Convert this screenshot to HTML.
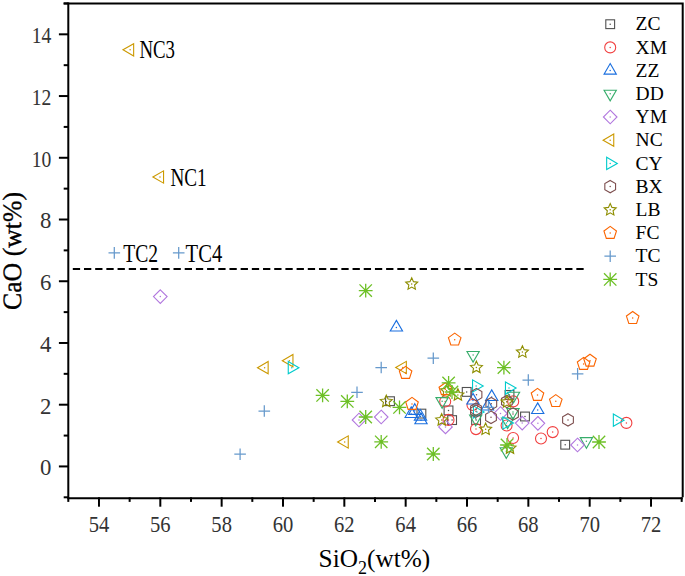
<!DOCTYPE html><html><head><meta charset="utf-8"><style>
html,body{margin:0;padding:0;background:#fff;width:685px;height:576px;overflow:hidden}
svg{display:block;position:absolute;left:0;top:0}
text{font-family:"Liberation Serif",serif}
</style></head><body>
<svg width="685" height="576" viewBox="0 0 685 576">
<rect width="685" height="576" fill="#fff"/>
<line x1="72.8" y1="269.05" x2="584" y2="269.05" stroke="#000" stroke-width="2" stroke-dasharray="7.3 3.89"/>
<rect x="385.6" y="396.8" width="8.8" height="8.8" fill="none" stroke="#515151" stroke-width="1.1"/><circle cx="390" cy="401.2" r="0.75" fill="#515151"/>
<rect x="417" y="409.2" width="8.8" height="8.8" fill="none" stroke="#515151" stroke-width="1.1"/><circle cx="421.4" cy="413.6" r="0.75" fill="#515151"/>
<rect x="444.1" y="406" width="8.8" height="8.8" fill="none" stroke="#515151" stroke-width="1.1"/><circle cx="448.5" cy="410.4" r="0.75" fill="#515151"/>
<rect x="447.7" y="415.7" width="8.8" height="8.8" fill="none" stroke="#515151" stroke-width="1.1"/><circle cx="452.1" cy="420.1" r="0.75" fill="#515151"/>
<rect x="462.3" y="387.5" width="8.8" height="8.8" fill="none" stroke="#515151" stroke-width="1.1"/><circle cx="466.7" cy="391.9" r="0.75" fill="#515151"/>
<rect x="471.7" y="415.7" width="8.8" height="8.8" fill="none" stroke="#515151" stroke-width="1.1"/><circle cx="476.1" cy="420.1" r="0.75" fill="#515151"/>
<rect x="505.1" y="390.5" width="8.8" height="8.8" fill="none" stroke="#515151" stroke-width="1.1"/><circle cx="509.5" cy="394.9" r="0.75" fill="#515151"/>
<rect x="520.6" y="412.1" width="8.8" height="8.8" fill="none" stroke="#515151" stroke-width="1.1"/><circle cx="525" cy="416.5" r="0.75" fill="#515151"/>
<rect x="560.8" y="440.3" width="8.8" height="8.8" fill="none" stroke="#515151" stroke-width="1.1"/><circle cx="565.2" cy="444.7" r="0.75" fill="#515151"/>
<circle cx="445.2" cy="401.5" r="5.5" fill="none" stroke="#F14040" stroke-width="1.1"/><circle cx="445.2" cy="401.5" r="0.75" fill="#F14040"/>
<circle cx="448.5" cy="419.9" r="5.5" fill="none" stroke="#F14040" stroke-width="1.1"/><circle cx="448.5" cy="419.9" r="0.75" fill="#F14040"/>
<circle cx="472.5" cy="405" r="5.5" fill="none" stroke="#F14040" stroke-width="1.1"/><circle cx="472.5" cy="405" r="0.75" fill="#F14040"/>
<circle cx="476" cy="429.1" r="5.5" fill="none" stroke="#F14040" stroke-width="1.1"/><circle cx="476" cy="429.1" r="0.75" fill="#F14040"/>
<circle cx="513.2" cy="401.4" r="5.5" fill="none" stroke="#F14040" stroke-width="1.1"/><circle cx="513.2" cy="401.4" r="0.75" fill="#F14040"/>
<circle cx="506.6" cy="425.5" r="5.5" fill="none" stroke="#F14040" stroke-width="1.1"/><circle cx="506.6" cy="425.5" r="0.75" fill="#F14040"/>
<circle cx="513.1" cy="438" r="5.5" fill="none" stroke="#F14040" stroke-width="1.1"/><circle cx="513.1" cy="438" r="0.75" fill="#F14040"/>
<circle cx="541" cy="438.5" r="5.5" fill="none" stroke="#F14040" stroke-width="1.1"/><circle cx="541" cy="438.5" r="0.75" fill="#F14040"/>
<circle cx="552.7" cy="432.1" r="5.5" fill="none" stroke="#F14040" stroke-width="1.1"/><circle cx="552.7" cy="432.1" r="0.75" fill="#F14040"/>
<circle cx="626.4" cy="422.9" r="5.5" fill="none" stroke="#F14040" stroke-width="1.1"/><circle cx="626.4" cy="422.9" r="0.75" fill="#F14040"/>
<path d="M396.4 320.4 L402.55 331.05 L390.25 331.05 Z" fill="none" stroke="#1A6FDF" stroke-width="1.1"/><circle cx="396.4" cy="327.5" r="0.75" fill="#1A6FDF"/>
<path d="M411.2 406.9 L417.35 417.55 L405.05 417.55 Z" fill="none" stroke="#1A6FDF" stroke-width="1.1"/><circle cx="411.2" cy="414" r="0.75" fill="#1A6FDF"/>
<path d="M414.8 403.7 L420.95 414.35 L408.65 414.35 Z" fill="none" stroke="#1A6FDF" stroke-width="1.1"/><circle cx="414.8" cy="410.8" r="0.75" fill="#1A6FDF"/>
<path d="M421 413.1 L427.15 423.75 L414.85 423.75 Z" fill="none" stroke="#1A6FDF" stroke-width="1.1"/><circle cx="421" cy="420.2" r="0.75" fill="#1A6FDF"/>
<path d="M420.5 409.5 L426.65 420.15 L414.35 420.15 Z" fill="none" stroke="#1A6FDF" stroke-width="1.1"/><circle cx="420.5" cy="416.6" r="0.75" fill="#1A6FDF"/>
<path d="M473 393.4 L479.15 404.05 L466.85 404.05 Z" fill="none" stroke="#1A6FDF" stroke-width="1.1"/><circle cx="473" cy="400.5" r="0.75" fill="#1A6FDF"/>
<path d="M491.7 389.9 L497.85 400.55 L485.55 400.55 Z" fill="none" stroke="#1A6FDF" stroke-width="1.1"/><circle cx="491.7" cy="397" r="0.75" fill="#1A6FDF"/>
<path d="M487.5 399.4 L493.65 410.05 L481.35 410.05 Z" fill="none" stroke="#1A6FDF" stroke-width="1.1"/><circle cx="487.5" cy="406.5" r="0.75" fill="#1A6FDF"/>
<path d="M537.7 402.9 L543.85 413.55 L531.55 413.55 Z" fill="none" stroke="#1A6FDF" stroke-width="1.1"/><circle cx="537.7" cy="410" r="0.75" fill="#1A6FDF"/>
<path d="M473.1 362.1 L466.95 351.45 L479.25 351.45 Z" fill="none" stroke="#37AD6B" stroke-width="1.1"/><circle cx="473.1" cy="355" r="0.75" fill="#37AD6B"/>
<path d="M442.1 408.3 L435.95 397.65 L448.25 397.65 Z" fill="none" stroke="#37AD6B" stroke-width="1.1"/><circle cx="442.1" cy="401.2" r="0.75" fill="#37AD6B"/>
<path d="M513.5 402.9 L507.35 392.25 L519.65 392.25 Z" fill="none" stroke="#37AD6B" stroke-width="1.1"/><circle cx="513.5" cy="395.8" r="0.75" fill="#37AD6B"/>
<path d="M475.7 425.8 L469.55 415.15 L481.85 415.15 Z" fill="none" stroke="#37AD6B" stroke-width="1.1"/><circle cx="475.7" cy="418.7" r="0.75" fill="#37AD6B"/>
<path d="M507.6 428.6 L501.45 417.95 L513.75 417.95 Z" fill="none" stroke="#37AD6B" stroke-width="1.1"/><circle cx="507.6" cy="421.5" r="0.75" fill="#37AD6B"/>
<path d="M513 419.1 L506.85 408.45 L519.15 408.45 Z" fill="none" stroke="#37AD6B" stroke-width="1.1"/><circle cx="513" cy="412" r="0.75" fill="#37AD6B"/>
<path d="M506.3 458.4 L500.15 447.75 L512.45 447.75 Z" fill="none" stroke="#37AD6B" stroke-width="1.1"/><circle cx="506.3" cy="451.3" r="0.75" fill="#37AD6B"/>
<path d="M586.4 448.3 L580.25 437.65 L592.55 437.65 Z" fill="none" stroke="#37AD6B" stroke-width="1.1"/><circle cx="586.4" cy="441.2" r="0.75" fill="#37AD6B"/>
<path d="M160.3 289.8 L167.1 296.6 L160.3 303.4 L153.5 296.6 Z" fill="none" stroke="#B177DE" stroke-width="1.1"/><circle cx="160.3" cy="296.6" r="0.75" fill="#B177DE"/>
<path d="M359 413.2 L365.8 420 L359 426.8 L352.2 420 Z" fill="none" stroke="#B177DE" stroke-width="1.1"/><circle cx="359" cy="420" r="0.75" fill="#B177DE"/>
<path d="M381.2 410.2 L388 417 L381.2 423.8 L374.4 417 Z" fill="none" stroke="#B177DE" stroke-width="1.1"/><circle cx="381.2" cy="417" r="0.75" fill="#B177DE"/>
<path d="M445.5 420.1 L452.3 426.9 L445.5 433.7 L438.7 426.9 Z" fill="none" stroke="#B177DE" stroke-width="1.1"/><circle cx="445.5" cy="426.9" r="0.75" fill="#B177DE"/>
<path d="M500.5 406.7 L507.3 413.5 L500.5 420.3 L493.7 413.5 Z" fill="none" stroke="#B177DE" stroke-width="1.1"/><circle cx="500.5" cy="413.5" r="0.75" fill="#B177DE"/>
<path d="M522.2 416.3 L529 423.1 L522.2 429.9 L515.4 423.1 Z" fill="none" stroke="#B177DE" stroke-width="1.1"/><circle cx="522.2" cy="423.1" r="0.75" fill="#B177DE"/>
<path d="M537.9 416.5 L544.7 423.3 L537.9 430.1 L531.1 423.3 Z" fill="none" stroke="#B177DE" stroke-width="1.1"/><circle cx="537.9" cy="423.3" r="0.75" fill="#B177DE"/>
<path d="M577.5 438.2 L584.3 445 L577.5 451.8 L570.7 445 Z" fill="none" stroke="#B177DE" stroke-width="1.1"/><circle cx="577.5" cy="445" r="0.75" fill="#B177DE"/>
<path d="M123 49.8 L133.65 43.65 L133.65 55.95 Z" fill="none" stroke="#CC9900" stroke-width="1.1"/><circle cx="130.1" cy="49.8" r="0.75" fill="#CC9900"/>
<path d="M152.9 177 L163.55 170.85 L163.55 183.15 Z" fill="none" stroke="#CC9900" stroke-width="1.1"/><circle cx="160" cy="177" r="0.75" fill="#CC9900"/>
<path d="M257.5 367.7 L268.15 361.55 L268.15 373.85 Z" fill="none" stroke="#CC9900" stroke-width="1.1"/><circle cx="264.6" cy="367.7" r="0.75" fill="#CC9900"/>
<path d="M282.3 360.7 L292.95 354.55 L292.95 366.85 Z" fill="none" stroke="#CC9900" stroke-width="1.1"/><circle cx="289.4" cy="360.7" r="0.75" fill="#CC9900"/>
<path d="M395.7 367.5 L406.35 361.35 L406.35 373.65 Z" fill="none" stroke="#CC9900" stroke-width="1.1"/><circle cx="402.8" cy="367.5" r="0.75" fill="#CC9900"/>
<path d="M337.6 442 L348.25 435.85 L348.25 448.15 Z" fill="none" stroke="#CC9900" stroke-width="1.1"/><circle cx="344.7" cy="442" r="0.75" fill="#CC9900"/>
<path d="M298.9 367.7 L288.25 373.85 L288.25 361.55 Z" fill="none" stroke="#00CBCC" stroke-width="1.1"/><circle cx="291.8" cy="367.7" r="0.75" fill="#00CBCC"/>
<path d="M483.2 386 L472.55 392.15 L472.55 379.85 Z" fill="none" stroke="#00CBCC" stroke-width="1.1"/><circle cx="476.1" cy="386" r="0.75" fill="#00CBCC"/>
<path d="M516.1 388.1 L505.45 394.25 L505.45 381.95 Z" fill="none" stroke="#00CBCC" stroke-width="1.1"/><circle cx="509" cy="388.1" r="0.75" fill="#00CBCC"/>
<path d="M513.5 423 L502.85 429.15 L502.85 416.85 Z" fill="none" stroke="#00CBCC" stroke-width="1.1"/><circle cx="506.4" cy="423" r="0.75" fill="#00CBCC"/>
<path d="M624 420.2 L613.35 426.35 L613.35 414.05 Z" fill="none" stroke="#00CBCC" stroke-width="1.1"/><circle cx="616.9" cy="420.2" r="0.75" fill="#00CBCC"/>
<path d="M484.1 412 L473.45 418.15 L473.45 405.85 Z" fill="none" stroke="#00CBCC" stroke-width="1.1"/><circle cx="477" cy="412" r="0.75" fill="#00CBCC"/>
<path d="M476.5 388.5 L481.87 391.6 L481.87 397.8 L476.5 400.9 L471.13 397.8 L471.13 391.6 Z" fill="none" stroke="#7D4E4E" stroke-width="1.1"/><circle cx="476.5" cy="394.7" r="0.75" fill="#7D4E4E"/>
<path d="M476 403 L481.37 406.1 L481.37 412.3 L476 415.4 L470.63 412.3 L470.63 406.1 Z" fill="none" stroke="#7D4E4E" stroke-width="1.1"/><circle cx="476" cy="409.2" r="0.75" fill="#7D4E4E"/>
<path d="M476 405 L481.37 408.1 L481.37 414.3 L476 417.4 L470.63 414.3 L470.63 408.1 Z" fill="none" stroke="#7D4E4E" stroke-width="1.1"/><circle cx="476" cy="411.2" r="0.75" fill="#7D4E4E"/>
<path d="M491.3 397.5 L496.67 400.6 L496.67 406.8 L491.3 409.9 L485.93 406.8 L485.93 400.6 Z" fill="none" stroke="#7D4E4E" stroke-width="1.1"/><circle cx="491.3" cy="403.7" r="0.75" fill="#7D4E4E"/>
<path d="M491 411.1 L496.37 414.2 L496.37 420.4 L491 423.5 L485.63 420.4 L485.63 414.2 Z" fill="none" stroke="#7D4E4E" stroke-width="1.1"/><circle cx="491" cy="417.3" r="0.75" fill="#7D4E4E"/>
<path d="M506.9 395.3 L512.27 398.4 L512.27 404.6 L506.9 407.7 L501.53 404.6 L501.53 398.4 Z" fill="none" stroke="#7D4E4E" stroke-width="1.1"/><circle cx="506.9" cy="401.5" r="0.75" fill="#7D4E4E"/>
<path d="M513 407.8 L518.37 410.9 L518.37 417.1 L513 420.2 L507.63 417.1 L507.63 410.9 Z" fill="none" stroke="#7D4E4E" stroke-width="1.1"/><circle cx="513" cy="414" r="0.75" fill="#7D4E4E"/>
<path d="M568 413.7 L573.37 416.8 L573.37 423 L568 426.1 L562.63 423 L562.63 416.8 Z" fill="none" stroke="#7D4E4E" stroke-width="1.1"/><circle cx="568" cy="419.9" r="0.75" fill="#7D4E4E"/>
<path d="M411.7 277.8 L413.46 281.67 L417.69 282.15 L414.55 285.03 L415.4 289.2 L411.7 287.1 L408 289.2 L408.85 285.03 L405.71 282.15 L409.94 281.67 Z" fill="none" stroke="#8E8E00" stroke-width="1.1" stroke-linejoin="miter"/><circle cx="411.7" cy="284.1" r="0.75" fill="#8E8E00"/>
<path d="M386.3 395.2 L388.06 399.07 L392.29 399.55 L389.15 402.43 L390 406.6 L386.3 404.5 L382.6 406.6 L383.45 402.43 L380.31 399.55 L384.54 399.07 Z" fill="none" stroke="#8E8E00" stroke-width="1.1" stroke-linejoin="miter"/><circle cx="386.3" cy="401.5" r="0.75" fill="#8E8E00"/>
<path d="M446.6 384.5 L448.36 388.37 L452.59 388.85 L449.45 391.73 L450.3 395.9 L446.6 393.8 L442.9 395.9 L443.75 391.73 L440.61 388.85 L444.84 388.37 Z" fill="none" stroke="#8E8E00" stroke-width="1.1" stroke-linejoin="miter"/><circle cx="446.6" cy="390.8" r="0.75" fill="#8E8E00"/>
<path d="M457.9 388.7 L459.66 392.57 L463.89 393.05 L460.75 395.93 L461.6 400.1 L457.9 398 L454.2 400.1 L455.05 395.93 L451.91 393.05 L456.14 392.57 Z" fill="none" stroke="#8E8E00" stroke-width="1.1" stroke-linejoin="miter"/><circle cx="457.9" cy="395" r="0.75" fill="#8E8E00"/>
<path d="M476.4 361.2 L478.16 365.07 L482.39 365.55 L479.25 368.43 L480.1 372.6 L476.4 370.5 L472.7 372.6 L473.55 368.43 L470.41 365.55 L474.64 365.07 Z" fill="none" stroke="#8E8E00" stroke-width="1.1" stroke-linejoin="miter"/><circle cx="476.4" cy="367.5" r="0.75" fill="#8E8E00"/>
<path d="M522.4 345.8 L524.16 349.67 L528.39 350.15 L525.25 353.03 L526.1 357.2 L522.4 355.1 L518.7 357.2 L519.55 353.03 L516.41 350.15 L520.64 349.67 Z" fill="none" stroke="#8E8E00" stroke-width="1.1" stroke-linejoin="miter"/><circle cx="522.4" cy="352.1" r="0.75" fill="#8E8E00"/>
<path d="M507 395.8 L508.76 399.67 L512.99 400.15 L509.85 403.03 L510.7 407.2 L507 405.1 L503.3 407.2 L504.15 403.03 L501.01 400.15 L505.24 399.67 Z" fill="none" stroke="#8E8E00" stroke-width="1.1" stroke-linejoin="miter"/><circle cx="507" cy="402.1" r="0.75" fill="#8E8E00"/>
<path d="M485.6 423 L487.36 426.87 L491.59 427.35 L488.45 430.23 L489.3 434.4 L485.6 432.3 L481.9 434.4 L482.75 430.23 L479.61 427.35 L483.84 426.87 Z" fill="none" stroke="#8E8E00" stroke-width="1.1" stroke-linejoin="miter"/><circle cx="485.6" cy="429.3" r="0.75" fill="#8E8E00"/>
<path d="M441.7 413.7 L443.46 417.57 L447.69 418.05 L444.55 420.93 L445.4 425.1 L441.7 423 L438 425.1 L438.85 420.93 L435.71 418.05 L439.94 417.57 Z" fill="none" stroke="#8E8E00" stroke-width="1.1" stroke-linejoin="miter"/><circle cx="441.7" cy="420" r="0.75" fill="#8E8E00"/>
<path d="M510 441.9 L511.76 445.77 L515.99 446.25 L512.85 449.13 L513.7 453.3 L510 451.2 L506.3 453.3 L507.15 449.13 L504.01 446.25 L508.24 445.77 Z" fill="none" stroke="#8E8E00" stroke-width="1.1" stroke-linejoin="miter"/><circle cx="510" cy="448.2" r="0.75" fill="#8E8E00"/>
<path d="M632.7 311.5 L638.98 316.06 L636.58 323.44 L628.82 323.44 L626.42 316.06 Z" fill="none" stroke="#FB6501" stroke-width="1.1"/><circle cx="632.7" cy="318.1" r="0.75" fill="#FB6501"/>
<path d="M454.7 333.1 L460.98 337.66 L458.58 345.04 L450.82 345.04 L448.42 337.66 Z" fill="none" stroke="#FB6501" stroke-width="1.1"/><circle cx="454.7" cy="339.7" r="0.75" fill="#FB6501"/>
<path d="M405.6 366.4 L411.88 370.96 L409.48 378.34 L401.72 378.34 L399.32 370.96 Z" fill="none" stroke="#FB6501" stroke-width="1.1"/><circle cx="405.6" cy="373" r="0.75" fill="#FB6501"/>
<path d="M445.3 382.7 L451.58 387.26 L449.18 394.64 L441.42 394.64 L439.02 387.26 Z" fill="none" stroke="#FB6501" stroke-width="1.1"/><circle cx="445.3" cy="389.3" r="0.75" fill="#FB6501"/>
<path d="M412 397.4 L418.28 401.96 L415.88 409.34 L408.12 409.34 L405.72 401.96 Z" fill="none" stroke="#FB6501" stroke-width="1.1"/><circle cx="412" cy="404" r="0.75" fill="#FB6501"/>
<path d="M537.5 388.4 L543.78 392.96 L541.38 400.34 L533.62 400.34 L531.22 392.96 Z" fill="none" stroke="#FB6501" stroke-width="1.1"/><circle cx="537.5" cy="395" r="0.75" fill="#FB6501"/>
<path d="M555.8 394.6 L562.08 399.16 L559.68 406.54 L551.92 406.54 L549.52 399.16 Z" fill="none" stroke="#FB6501" stroke-width="1.1"/><circle cx="555.8" cy="401.2" r="0.75" fill="#FB6501"/>
<path d="M583.6 357.4 L589.88 361.96 L587.48 369.34 L579.72 369.34 L577.32 361.96 Z" fill="none" stroke="#FB6501" stroke-width="1.1"/><circle cx="583.6" cy="364" r="0.75" fill="#FB6501"/>
<path d="M590 354.2 L596.28 358.76 L593.88 366.14 L586.12 366.14 L583.72 358.76 Z" fill="none" stroke="#FB6501" stroke-width="1.1"/><circle cx="590" cy="360.8" r="0.75" fill="#FB6501"/>
<path d="M108.5 252.9 H120.1 M114.3 247.1 V258.7" fill="none" stroke="#6699CC" stroke-width="1.25"/>
<path d="M172.9 252.9 H184.5 M178.7 247.1 V258.7" fill="none" stroke="#6699CC" stroke-width="1.25"/>
<path d="M234.3 454.2 H245.9 M240.1 448.4 V460" fill="none" stroke="#6699CC" stroke-width="1.25"/>
<path d="M258.5 411 H270.1 M264.3 405.2 V416.8" fill="none" stroke="#6699CC" stroke-width="1.25"/>
<path d="M351.2 392.3 H362.8 M357 386.5 V398.1" fill="none" stroke="#6699CC" stroke-width="1.25"/>
<path d="M375.4 367.5 H387 M381.2 361.7 V373.3" fill="none" stroke="#6699CC" stroke-width="1.25"/>
<path d="M427.5 358.2 H439.1 M433.3 352.4 V364" fill="none" stroke="#6699CC" stroke-width="1.25"/>
<path d="M522.5 380 H534.1 M528.3 374.2 V385.8" fill="none" stroke="#6699CC" stroke-width="1.25"/>
<path d="M571.8 373.9 H583.4 M577.6 368.1 V379.7" fill="none" stroke="#6699CC" stroke-width="1.25"/>
<path d="M482.7 407.4 H494.3 M488.5 401.6 V413.2" fill="none" stroke="#6699CC" stroke-width="1.25"/>
<path d="M358.8 290.6 H372.6 M365.7 283.7 V297.5 M359.5 284.4 L371.9 296.8 M359.5 296.8 L371.9 284.4" fill="none" stroke="#6DC026" stroke-width="1.3"/><circle cx="365.7" cy="290.6" r="1.1" fill="#6DC026"/>
<path d="M315.7 395.4 H329.5 M322.6 388.5 V402.3 M316.4 389.2 L328.8 401.6 M316.4 401.6 L328.8 389.2" fill="none" stroke="#6DC026" stroke-width="1.3"/><circle cx="322.6" cy="395.4" r="1.1" fill="#6DC026"/>
<path d="M340.4 401.4 H354.2 M347.3 394.5 V408.3 M341.1 395.2 L353.5 407.6 M341.1 407.6 L353.5 395.2" fill="none" stroke="#6DC026" stroke-width="1.3"/><circle cx="347.3" cy="401.4" r="1.1" fill="#6DC026"/>
<path d="M358.8 417 H372.6 M365.7 410.1 V423.9 M359.5 410.8 L371.9 423.2 M359.5 423.2 L371.9 410.8" fill="none" stroke="#6DC026" stroke-width="1.3"/><circle cx="365.7" cy="417" r="1.1" fill="#6DC026"/>
<path d="M374.3 441.8 H388.1 M381.2 434.9 V448.7 M375 435.6 L387.4 448 M375 448 L387.4 435.6" fill="none" stroke="#6DC026" stroke-width="1.3"/><circle cx="381.2" cy="441.8" r="1.1" fill="#6DC026"/>
<path d="M392.6 407.4 H406.4 M399.5 400.5 V414.3 M393.3 401.2 L405.7 413.6 M393.3 413.6 L405.7 401.2" fill="none" stroke="#6DC026" stroke-width="1.3"/><circle cx="399.5" cy="407.4" r="1.1" fill="#6DC026"/>
<path d="M441.7 382.9 H455.5 M448.6 376 V389.8 M442.4 376.7 L454.8 389.1 M442.4 389.1 L454.8 376.7" fill="none" stroke="#6DC026" stroke-width="1.3"/><circle cx="448.6" cy="382.9" r="1.1" fill="#6DC026"/>
<path d="M445.1 392 H458.9 M452 385.1 V398.9 M445.8 385.8 L458.2 398.2 M445.8 398.2 L458.2 385.8" fill="none" stroke="#6DC026" stroke-width="1.3"/><circle cx="452" cy="392" r="1.1" fill="#6DC026"/>
<path d="M497 367.6 H510.8 M503.9 360.7 V374.5 M497.7 361.4 L510.1 373.8 M497.7 373.8 L510.1 361.4" fill="none" stroke="#6DC026" stroke-width="1.3"/><circle cx="503.9" cy="367.6" r="1.1" fill="#6DC026"/>
<path d="M500.1 445 H513.9 M507 438.1 V451.9 M500.8 438.8 L513.2 451.2 M500.8 451.2 L513.2 438.8" fill="none" stroke="#6DC026" stroke-width="1.3"/><circle cx="507" cy="445" r="1.1" fill="#6DC026"/>
<path d="M426.4 454 H440.2 M433.3 447.1 V460.9 M427.1 447.8 L439.5 460.2 M427.1 460.2 L439.5 447.8" fill="none" stroke="#6DC026" stroke-width="1.3"/><circle cx="433.3" cy="454" r="1.1" fill="#6DC026"/>
<path d="M592.1 442 H605.9 M599 435.1 V448.9 M592.8 435.8 L605.2 448.2 M592.8 448.2 L605.2 435.8" fill="none" stroke="#6DC026" stroke-width="1.3"/><circle cx="599" cy="442" r="1.1" fill="#6DC026"/>
<g stroke="#000" stroke-width="2.0" fill="none" stroke-linecap="butt">
<path d="M63.6 3.45 H682.7 V497.3"/>
<path d="M68.3 2.45 V498.3 H682.7"/>
<path d="M68.3 497.3 V501.9"/>
<path d="M98.97 497.3 V506.7"/>
<path d="M129.64 497.3 V501.9"/>
<path d="M160.31 497.3 V506.7"/>
<path d="M190.98 497.3 V501.9"/>
<path d="M221.65 497.3 V506.7"/>
<path d="M252.32 497.3 V501.9"/>
<path d="M282.99 497.3 V506.7"/>
<path d="M313.66 497.3 V501.9"/>
<path d="M344.33 497.3 V506.7"/>
<path d="M375 497.3 V501.9"/>
<path d="M405.67 497.3 V506.7"/>
<path d="M436.34 497.3 V501.9"/>
<path d="M467.01 497.3 V506.7"/>
<path d="M497.68 497.3 V501.9"/>
<path d="M528.35 497.3 V506.7"/>
<path d="M559.02 497.3 V501.9"/>
<path d="M589.69 497.3 V506.7"/>
<path d="M620.36 497.3 V501.9"/>
<path d="M651.03 497.3 V506.7"/>
<path d="M681.7 497.3 V501.9"/>
<path d="M68.3 497.3 H63.7"/>
<path d="M68.3 466.43 H58.9"/>
<path d="M68.3 435.57 H63.7"/>
<path d="M68.3 404.7 H58.9"/>
<path d="M68.3 373.84 H63.7"/>
<path d="M68.3 342.97 H58.9"/>
<path d="M68.3 312.11 H63.7"/>
<path d="M68.3 281.24 H58.9"/>
<path d="M68.3 250.38 H63.7"/>
<path d="M68.3 219.51 H58.9"/>
<path d="M68.3 188.64 H63.7"/>
<path d="M68.3 157.78 H58.9"/>
<path d="M68.3 126.91 H63.7"/>
<path d="M68.3 96.05 H58.9"/>
<path d="M68.3 65.18 H63.7"/>
<path d="M68.3 34.32 H58.9"/>
<path d="M68.3 3.45 H63.7"/>
</g>
<text x="98.97" y="532" font-size="22.8" fill="#333" text-anchor="middle" textLength="20.6" lengthAdjust="spacingAndGlyphs">54</text>
<text x="160.31" y="532" font-size="22.8" fill="#333" text-anchor="middle" textLength="20.6" lengthAdjust="spacingAndGlyphs">56</text>
<text x="221.65" y="532" font-size="22.8" fill="#333" text-anchor="middle" textLength="20.6" lengthAdjust="spacingAndGlyphs">58</text>
<text x="282.99" y="532" font-size="22.8" fill="#333" text-anchor="middle" textLength="20.6" lengthAdjust="spacingAndGlyphs">60</text>
<text x="344.33" y="532" font-size="22.8" fill="#333" text-anchor="middle" textLength="20.6" lengthAdjust="spacingAndGlyphs">62</text>
<text x="405.67" y="532" font-size="22.8" fill="#333" text-anchor="middle" textLength="20.6" lengthAdjust="spacingAndGlyphs">64</text>
<text x="467.01" y="532" font-size="22.8" fill="#333" text-anchor="middle" textLength="20.6" lengthAdjust="spacingAndGlyphs">66</text>
<text x="528.35" y="532" font-size="22.8" fill="#333" text-anchor="middle" textLength="20.6" lengthAdjust="spacingAndGlyphs">68</text>
<text x="589.69" y="532" font-size="22.8" fill="#333" text-anchor="middle" textLength="20.6" lengthAdjust="spacingAndGlyphs">70</text>
<text x="651.03" y="532" font-size="22.8" fill="#333" text-anchor="middle" textLength="20.6" lengthAdjust="spacingAndGlyphs">72</text>
<text x="51.3" y="475.23" font-size="22.8" fill="#333" text-anchor="end">0</text>
<text x="51.3" y="413.5" font-size="22.8" fill="#333" text-anchor="end">2</text>
<text x="51.3" y="351.77" font-size="22.8" fill="#333" text-anchor="end">4</text>
<text x="51.3" y="290.04" font-size="22.8" fill="#333" text-anchor="end">6</text>
<text x="51.3" y="228.31" font-size="22.8" fill="#333" text-anchor="end">8</text>
<text x="51.3" y="166.58" font-size="22.8" fill="#333" text-anchor="end" textLength="19.6" lengthAdjust="spacingAndGlyphs">10</text>
<text x="51.3" y="104.85" font-size="22.8" fill="#333" text-anchor="end" textLength="19.6" lengthAdjust="spacingAndGlyphs">12</text>
<text x="51.3" y="43.12" font-size="22.8" fill="#333" text-anchor="end" textLength="19.6" lengthAdjust="spacingAndGlyphs">14</text>
<text x="139.4" y="57.5" font-size="24.6" textLength="35.6" lengthAdjust="spacingAndGlyphs">NC3</text>
<text x="170.4" y="186.1" font-size="24.6" textLength="36.2" lengthAdjust="spacingAndGlyphs">NC1</text>
<text x="123.2" y="262" font-size="24.6" textLength="34.8" lengthAdjust="spacingAndGlyphs">TC2</text>
<text x="185.6" y="262" font-size="24.6" textLength="36.6" lengthAdjust="spacingAndGlyphs">TC4</text>
<rect x="605.8" y="19.8" width="8.8" height="8.8" fill="none" stroke="#515151" stroke-width="1.1"/><circle cx="610.2" cy="24.2" r="0.75" fill="#515151"/>
<text x="635.6" y="30.3" font-size="19.5">ZC</text>
<circle cx="610.2" cy="47.4" r="5.5" fill="none" stroke="#F14040" stroke-width="1.1"/><circle cx="610.2" cy="47.4" r="0.75" fill="#F14040"/>
<text x="635.6" y="53.5" font-size="19.5">XM</text>
<path d="M610.2 63.5 L616.35 74.15 L604.05 74.15 Z" fill="none" stroke="#1A6FDF" stroke-width="1.1"/><circle cx="610.2" cy="70.6" r="0.75" fill="#1A6FDF"/>
<text x="635.6" y="76.7" font-size="19.5">ZZ</text>
<path d="M610.2 100.9 L604.05 90.25 L616.35 90.25 Z" fill="none" stroke="#37AD6B" stroke-width="1.1"/><circle cx="610.2" cy="93.8" r="0.75" fill="#37AD6B"/>
<text x="635.6" y="99.9" font-size="19.5">DD</text>
<path d="M610.2 110.2 L617 117 L610.2 123.8 L603.4 117 Z" fill="none" stroke="#B177DE" stroke-width="1.1"/><circle cx="610.2" cy="117" r="0.75" fill="#B177DE"/>
<text x="635.6" y="123.1" font-size="19.5">YM</text>
<path d="M603.1 140.2 L613.75 134.05 L613.75 146.35 Z" fill="none" stroke="#CC9900" stroke-width="1.1"/><circle cx="610.2" cy="140.2" r="0.75" fill="#CC9900"/>
<text x="635.6" y="146.3" font-size="19.5">NC</text>
<path d="M617.3 163.4 L606.65 169.55 L606.65 157.25 Z" fill="none" stroke="#00CBCC" stroke-width="1.1"/><circle cx="610.2" cy="163.4" r="0.75" fill="#00CBCC"/>
<text x="635.6" y="169.5" font-size="19.5">CY</text>
<path d="M610.2 180.4 L615.57 183.5 L615.57 189.7 L610.2 192.8 L604.83 189.7 L604.83 183.5 Z" fill="none" stroke="#7D4E4E" stroke-width="1.1"/><circle cx="610.2" cy="186.6" r="0.75" fill="#7D4E4E"/>
<text x="635.6" y="192.7" font-size="19.5">BX</text>
<path d="M610.2 203.5 L611.96 207.37 L616.19 207.85 L613.05 210.73 L613.9 214.9 L610.2 212.8 L606.5 214.9 L607.35 210.73 L604.21 207.85 L608.44 207.37 Z" fill="none" stroke="#8E8E00" stroke-width="1.1" stroke-linejoin="miter"/><circle cx="610.2" cy="209.8" r="0.75" fill="#8E8E00"/>
<text x="635.6" y="215.9" font-size="19.5">LB</text>
<path d="M610.2 226.4 L616.48 230.96 L614.08 238.34 L606.32 238.34 L603.92 230.96 Z" fill="none" stroke="#FB6501" stroke-width="1.1"/><circle cx="610.2" cy="233" r="0.75" fill="#FB6501"/>
<text x="635.6" y="239.1" font-size="19.5">FC</text>
<path d="M604.4 256.2 H616 M610.2 250.4 V262" fill="none" stroke="#6699CC" stroke-width="1.25"/>
<text x="635.6" y="262.3" font-size="19.5">TC</text>
<path d="M603.3 279.4 H617.1 M610.2 272.5 V286.3 M604 273.2 L616.4 285.6 M604 285.6 L616.4 273.2" fill="none" stroke="#6DC026" stroke-width="1.3"/><circle cx="610.2" cy="279.4" r="1.1" fill="#6DC026"/>
<text x="635.6" y="285.5" font-size="19.5">TS</text>
<text x="318.6" y="566.5" font-size="25.3">SiO<tspan font-size="18" dy="7">2</tspan><tspan dy="-7">(wt%)</tspan></text>
<text transform="translate(20.8 251) rotate(-90)" font-size="26.5" text-anchor="middle" stroke="#000" stroke-width="0.35" textLength="118" lengthAdjust="spacingAndGlyphs" style="text-rendering:geometricPrecision">CaO (wt%)</text>
</svg></body></html>
